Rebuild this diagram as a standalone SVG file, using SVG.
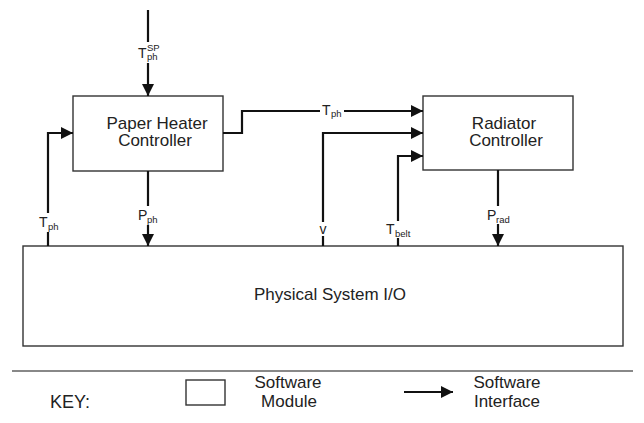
<svg xmlns="http://www.w3.org/2000/svg" width="644" height="423" viewBox="0 0 644 423">
<style>
.box{fill:#fff;stroke:#333;stroke-width:1.4}
.conn{fill:none;stroke:#111;stroke-width:2.2}
.t{font-family:"Liberation Sans",Arial,sans-serif;fill:#222}
.nm{font-size:17px;text-anchor:middle}
.lb{font-size:14px}
.sb{font-size:9.5px}
.bg{fill:#fff}
</style>
<defs>
<marker id="ah" markerUnits="userSpaceOnUse" markerWidth="12" markerHeight="12" refX="12" refY="6" orient="auto">
<path d="M0,0 L12,6 L0,12 z" fill="#111"/>
</marker>
</defs>
<g id="physical-system">
<rect class="box" x="23" y="246" width="600" height="100"/>
<text class="t nm" x="330" y="300">Physical System I/O</text>
</g>
<g id="paper-heater-controller">
<rect class="box" x="73" y="96" width="150" height="75"/>
<text class="t nm" x="157" y="129">Paper Heater</text>
<text class="t nm" x="155" y="146">Controller</text>
</g>
<g id="radiator-controller">
<rect class="box" x="423" y="96" width="150" height="74"/>
<text class="t nm" x="504" y="129">Radiator</text>
<text class="t nm" x="506" y="146">Controller</text>
</g>
<g id="connectors">
<path class="conn" d="M148,10 V96" marker-end="url(#ah)"/>
<path class="conn" d="M48,246 V133 H73" marker-end="url(#ah)"/>
<path class="conn" d="M223,133 H242 V111 H423" marker-end="url(#ah)"/>
<path class="conn" d="M323,246 V133 H423" marker-end="url(#ah)"/>
<path class="conn" d="M398,246 V156 H423" marker-end="url(#ah)"/>
<path class="conn" d="M148,171 V246" marker-end="url(#ah)"/>
<path class="conn" d="M498,170 V246" marker-end="url(#ah)"/>
<g id="labels">
<rect class="bg" x="136" y="42" width="25" height="21"/>
<text class="t lb" x="138" y="58">T</text>
<text class="t sb" x="147" y="51">SP</text>
<text class="t sb" x="147" y="60">ph</text>
<rect class="bg" x="320" y="102" width="24" height="14"/>
<text class="t lb" x="322" y="115">T</text>
<text class="t sb" x="331" y="117">ph</text>
<rect class="bg" x="316" y="222" width="14" height="14"/>
<text class="t lb" x="323" y="234" text-anchor="middle">v</text>
<rect class="bg" x="385" y="221" width="27" height="17"/>
<text class="t lb" x="386" y="234">T</text>
<text class="t sb" x="395" y="237">belt</text>
<rect class="bg" x="485" y="206" width="26" height="18"/>
<text class="t lb" x="487" y="220">P</text>
<text class="t sb" x="496" y="223">rad</text>
<rect class="bg" x="136" y="206" width="24" height="19"/>
<text class="t lb" x="138" y="220">P</text>
<text class="t sb" x="147" y="223">ph</text>
<rect class="bg" x="37" y="213" width="22" height="19"/>
<text class="t lb" x="39" y="227">T</text>
<text class="t sb" x="48" y="230">ph</text>
</g>
</g>
<g id="key">
<line x1="12" y1="371" x2="633" y2="371" stroke="#888" stroke-width="2"/>
<text class="t" x="50" y="408" font-size="18">KEY:</text>
<rect class="box" x="186" y="380" width="39" height="25"/>
<text class="t nm" x="288" y="388">Software</text>
<text class="t nm" x="289" y="407">Module</text>
<path class="conn" d="M404,392 H453" marker-end="url(#ah)"/>
<text class="t nm" x="507" y="388">Software</text>
<text class="t nm" x="507" y="407">Interface</text>
</g>
</svg>
